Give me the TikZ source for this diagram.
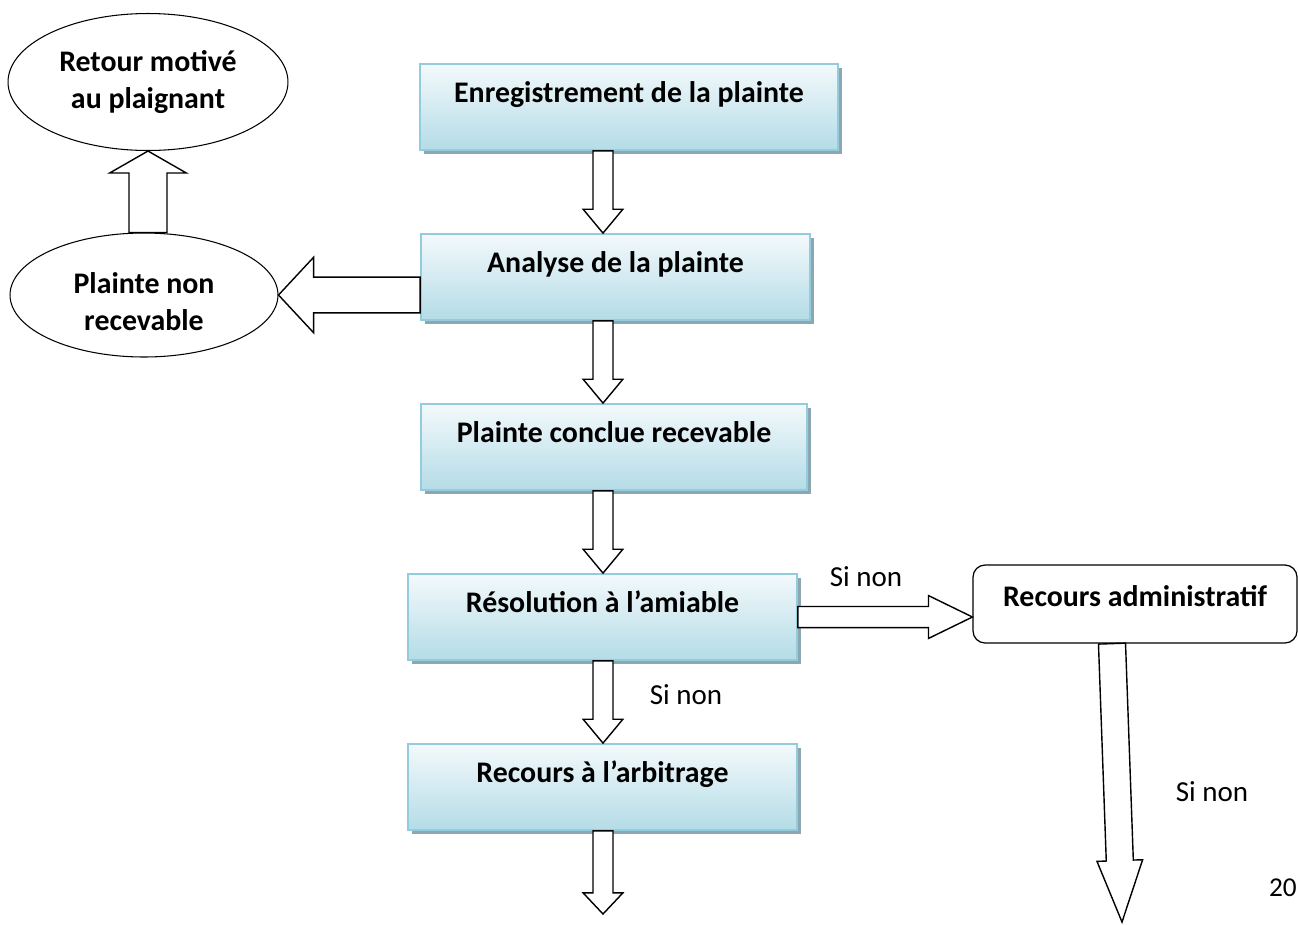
\documentclass[tikz,border=0pt]{standalone}
\usepackage{fontspec}
\setmainfont{Carlito}
\usetikzlibrary{shapes.geometric,shadows,calc}

\definecolor{boxtop}{HTML}{F3F9FB}
\definecolor{boxbottom}{HTML}{B4DCE7}
\definecolor{boxline}{HTML}{93CDDD}
\definecolor{boxshadow}{HTML}{8DA7B2}

\tikzset{
			stage/.style={rectangle, draw=boxline, line width=1pt, top color=boxtop, bottom color=boxbottom,
				minimum height=1.72cm, font=\fontsize{17}{20}\selectfont\bfseries, text height=12pt, text depth=17pt,
				drop shadow={shadow xshift=0.08cm, shadow yshift=-0.08cm, fill=boxshadow, opacity=1}},
			oval/.style={ellipse, draw=black, line width=0.6pt, inner sep=0pt, align=center,
				font=\fontsize{17}{21}\selectfont\bfseries},
			roundbox/.style={rectangle, rounded corners=0.24cm, draw=black, line width=0.7pt,
				minimum width=6.48cm, minimum height=1.56cm, text height=12pt, text depth=9pt,
				font=\fontsize{17}{20}\selectfont\bfseries},
			blk/.style={draw=black, line width=0.8pt, fill=white, line join=miter},
			note/.style={font=\fontsize{16.5}{20}\selectfont, inner sep=0pt}
		}

% block arrow: from, to, shaft half width, head half width, head length
\newcommand{\blockarrow}[5]{%
	\draw[blk] let \p1=($(#2)-(#1)$), \n1={veclen(\x1,\y1)}, \n2={atan2(\y1,\x1)}, \n3={\n1-#5} in
		($(#1)+(\n2+90:#3)$) -- ($(#1)+(\n2+90:#3)+(\n2:\n3)$) -- ($(#1)+(\n2+90:#4)+(\n2:\n3)$)
		-- (#2) -- ($(#1)+(\n2-90:#4)+(\n2:\n3)$) -- ($(#1)+(\n2-90:#3)+(\n2:\n3)$)
		-- ($(#1)+(\n2-90:#3)$) -- cycle;}

\begin{document}
\begin{tikzpicture}[x=0.02cm, y=-0.02cm]

			\useasboundingbox (0,0) rectangle (1298,924);

			% Main column
			\node[stage, minimum width=8.36cm] (enreg) at (629,107) {Enregistrement de la plainte};
			\node[stage, minimum width=7.78cm] (analyse) at (615.5,277) {Analyse de la plainte};
			\node[stage, minimum width=7.72cm] (conclue) at (614,447) {Plainte conclue recevable};
			\node[stage, minimum width=7.78cm] (resol) at (602.5,617) {Résolution à l’amiable};
			\node[stage, minimum width=7.78cm] (arbit) at (602.5,787) {Recours à l’arbitrage};

			% Side nodes
			\node[oval, minimum width=5.6cm, minimum height=2.74cm] (retour) at (148,82) {Retour motivé\\au plaignant};
			\node[oval, minimum width=5.36cm, minimum height=2.48cm] (nonrec) at (144,295) {};
			\node[oval, draw=none] (nonrectxt) at (144,302) {Plainte non\\recevable};
			\node[roundbox] (admin) at (1135,604) {Recours administratif};

			% Helper points
			\coordinate (axis) at (603,0);
			\coordinate (arbend) at (603,914);
			\coordinate (admout) at ($(admin.south)+(-23,0)$);
			\coordinate (admend) at (1122,922);

			% Block arrows
			\blockarrow{enreg.south -| axis}{analyse.north -| axis}{5.7pt}{11.3pt}{13.6pt}
			\blockarrow{analyse.south -| axis}{conclue.north -| axis}{5.7pt}{11.3pt}{13.6pt}
			\blockarrow{conclue.south -| axis}{resol.north -| axis}{5.7pt}{11.3pt}{13.6pt}
			\blockarrow{resol.south -| axis}{arbit.north -| axis}{5.7pt}{11.3pt}{13.6pt}
			\blockarrow{arbit.south -| axis}{arbend}{5.7pt}{11.3pt}{12pt}
			\blockarrow{analyse.west |- nonrec.east}{nonrec.east}{10.2pt}{21.5pt}{20pt}
			\blockarrow{retour.south |- nonrec.north}{retour.south}{10.8pt}{21.8pt}{12.5pt}
			\blockarrow{resol.east}{admin.west |- resol.east}{6pt}{12.2pt}{25pt}
			\blockarrow{admout}{admend}{7.7pt}{13pt}{35pt}

			% Labels
			\node[note] (sinon1) at (866,577) {Si non};
			\node[note] (sinon2) at (686,695) {Si non};
			\node[note] (sinon3) at (1212,792) {Si non};
			\node[note, anchor=east, font=\fontsize{15.5}{18}\selectfont] (page) at (1297,888) {20};

		\end{tikzpicture}
\end{document}
